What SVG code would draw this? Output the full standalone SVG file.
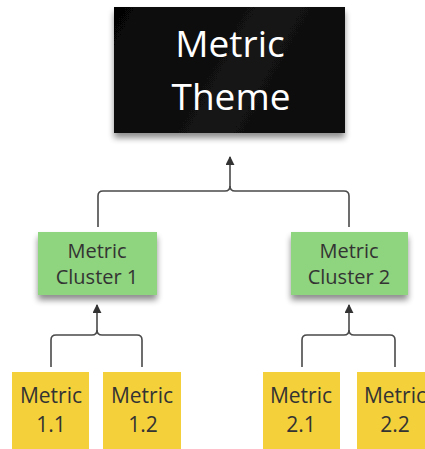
<svg xmlns="http://www.w3.org/2000/svg" width="425" height="449" viewBox="0 0 425 449">
<style>
.t{font-family:"Open Sans","Noto Sans",sans-serif;text-anchor:middle}
.big{font-size:37px;fill:#ffffff}
.mid{font-size:20px;fill:#333333}
.sm{font-size:21px;fill:#333333}
.c{fill:none;stroke:#4a4a4a;stroke-width:1.6}
.green{fill:#8fd47f}
.yellow{fill:#f4d03a}
</style>
<defs>
<filter id="sh" x="-20%" y="-20%" width="140%" height="160%">
<feGaussianBlur in="SourceAlpha" stdDeviation="3"/>
<feOffset dx="0" dy="5" result="b"/>
<feComponentTransfer><feFuncA type="linear" slope="0.45"/></feComponentTransfer>
<feMerge><feMergeNode/><feMergeNode in="SourceGraphic"/></feMerge>
</filter>
<linearGradient id="bk" gradientUnits="userSpaceOnUse" x1="114" y1="7" x2="345" y2="133">
<stop offset="0" stop-color="#050505"/>
<stop offset="0.55" stop-color="#141414"/>
<stop offset="1" stop-color="#080808"/>
</linearGradient>
<marker id="ah" viewBox="0 0 10 10" refX="9" refY="5" markerWidth="9" markerHeight="9" markerUnits="userSpaceOnUse" orient="auto">
<path d="M0,0 L10,5 L0,10 Z" fill="#333"/>
</marker>
</defs>
<g id="connectors">
<path class="c" d="M98,227 V196 Q98,191 103,191 H225 Q230,191 230,186 V157" marker-end="url(#ah)"/>
<path class="c" d="M349,227 V196 Q349,191 344,191 H235 Q230,191 230,186"/>
<path class="c" d="M51,367 V340 Q51,335 56,335 H92 Q97,335 97,330 V305" marker-end="url(#ah)"/>
<path class="c" d="M142,367 V340 Q142,335 137,335 H102 Q97,335 97,330"/>
<path class="c" d="M302,367 V340 Q302,335 307,335 H344 Q349,335 349,330 V305" marker-end="url(#ah)"/>
<path class="c" d="M395,367 V340 Q395,335 390,335 H354 Q349,335 349,330"/>
</g>
<g id="theme">
<rect x="114" y="7" width="231" height="126" fill="url(#bk)" filter="url(#sh)"/>
<text class="t big" x="230" y="57">Metric</text>
<text class="t big" x="231" y="110">Theme</text>
</g>
<g id="cluster1">
<rect class="green" x="38" y="232" width="119" height="63" filter="url(#sh)"/>
<text class="t mid" x="97" y="258">Metric</text>
<text class="t mid" x="97" y="284">Cluster 1</text>
</g>
<g id="cluster2">
<rect class="green" x="291" y="232" width="117" height="63" filter="url(#sh)"/>
<text class="t mid" x="349" y="258">Metric</text>
<text class="t mid" x="349" y="284">Cluster 2</text>
</g>
<g id="m11">
<rect class="yellow" x="12" y="372" width="77" height="82"/>
<text class="t sm" x="51" y="403">Metric</text>
<text class="t sm" x="51" y="432">1.1</text>
</g>
<g id="m12">
<rect class="yellow" x="103" y="372" width="78" height="82"/>
<text class="t sm" x="142" y="403">Metric</text>
<text class="t sm" x="143" y="432">1.2</text>
</g>
<g id="m21">
<rect class="yellow" x="263" y="372" width="77" height="82"/>
<text class="t sm" x="301" y="403">Metric</text>
<text class="t sm" x="301" y="432">2.1</text>
</g>
<g id="m22">
<rect class="yellow" x="357" y="372" width="78" height="82"/>
<text class="t sm" x="395" y="403">Metric</text>
<text class="t sm" x="395" y="432">2.2</text>
</g>
</svg>
